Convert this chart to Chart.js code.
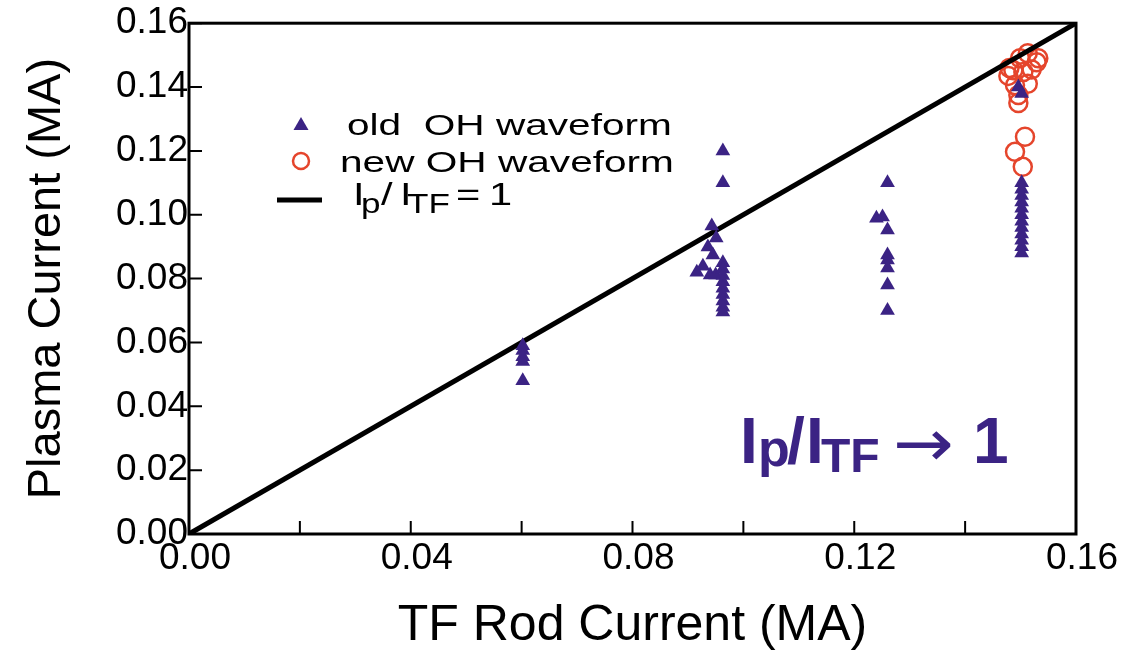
<!DOCTYPE html>
<html>
<head>
<meta charset="utf-8">
<script src="https://cdn.jsdelivr.net/npm/chart.js@4.4.1/dist/chart.umd.min.js"></script>
<style>
html,body{margin:0;padding:0;background:#fff}
#wrap{width:1124px;height:658px}
</style>
</head>
<body>
<div id="wrap"><canvas id="chartIp"></canvas></div>
<script>
// old OH waveform (triangles)
const oldX=[0.0602,0.0602,0.0602,0.0602,0.0602,
 0.0963,0.0963,0.0943,0.0951,0.0936,0.0945,0.0927,0.0916,0.0940,0.0950,
 0.0963,0.0963,0.0963,0.0963,0.0963,0.0963,0.0963,0.0963,0.0963,
 0.1260,0.1240,0.1251,0.1260,0.1260,0.1260,0.1260,0.1260,0.1260,
 0.1502,0.1502,0.1502,0.1502,0.1502,0.1502,0.1502,0.1502,0.1502,0.1502,0.1502,0.1502,0.1496,0.1502]
const oldY=[0.059,0.0575,0.0555,0.054,0.048,
 0.120,0.110,0.0965,0.0927,0.0899,0.0874,0.0839,0.082,0.0811,0.0811,
 0.085,0.083,0.081,0.079,0.077,0.075,0.073,0.071,0.0695,
 0.110,0.0989,0.0993,0.0952,0.0874,0.0858,0.0833,0.078,0.070,
 0.110,0.108,0.106,0.104,0.102,0.100,0.098,0.096,0.094,0.092,0.090,0.088,0.140,0.138]
// new OH waveform (circles)
const newX=[0.1499,0.1513,0.1480,0.1529,0.1490,0.1513,0.1496,0.1496,0.1487,0.1505,0.1532,0.1520,0.1478,0.1508,0.1490,0.1504]
const newY=[0.149,0.1506,0.146,0.1478,0.1406,0.141,0.1375,0.135,0.1453,0.1447,0.149,0.1455,0.1435,0.1244,0.1197,0.115]
// Ip / ITF = 1
const lineX=[0,0.16]
const lineY=[0,0.16]

const FONT="'Liberation Sans', Arial, Helvetica, sans-serif"
const PURPLE='#3b2384'
const RED='#e5452c'

function pts(xs,ys){return xs.map((x,i)=>({x:x,y:ys[i]}))}

function stretchText(ctx,txt,x,y,font,sx){
 ctx.save()
 ctx.font=font
 ctx.translate(x,y)
 ctx.scale(sx,1)
 ctx.fillText(txt,0,0)
 ctx.restore()
}

const framePlugin={
 id:'frame',
 afterDatasetsDraw(chart){
  const ctx=chart.ctx, a=chart.chartArea
  ctx.save()
  ctx.strokeStyle='#000'
  ctx.lineWidth=3
  ctx.strokeRect(a.left,a.top,a.right-a.left,a.bottom-a.top)
  ctx.lineWidth=2
  const xs=chart.scales.x, ys=chart.scales.y
  ctx.beginPath()
  xs.ticks.forEach(t=>{
   const p=xs.getPixelForValue(t.value)
   ctx.moveTo(p,a.bottom);ctx.lineTo(p,a.bottom-13)
  })
  ys.ticks.forEach(t=>{
   const p=ys.getPixelForValue(t.value)
   ctx.moveTo(a.left,p);ctx.lineTo(a.left+13,p)
  })
  ctx.stroke()
  ctx.restore()
 },
 afterDraw(chart){
  const ctx=chart.ctx
  ctx.save()
  ctx.textAlign='left'
  ctx.textBaseline='alphabetic'
  // legend
  ctx.fillStyle=PURPLE
  ctx.beginPath()
  ctx.moveTo(301,117);ctx.lineTo(308.5,130);ctx.lineTo(293.5,130);ctx.closePath()
  ctx.fill()
  ctx.strokeStyle=RED;ctx.lineWidth=2.5
  ctx.beginPath();ctx.arc(301,161,8,0,Math.PI*2);ctx.stroke()
  ctx.strokeStyle='#000';ctx.lineWidth=5
  ctx.beginPath();ctx.moveTo(277,200);ctx.lineTo(322,200);ctx.stroke()
  ctx.fillStyle='#000'
  const f29='29px '+FONT
  stretchText(ctx,'old  OH waveform',347,135,f29,1.4)
  stretchText(ctx,'new OH waveform',340,172,f29,1.4)
  const f32='32px '+FONT, f26='27px '+FONT
  stretchText(ctx,'I',353,205,f32,1.3)
  stretchText(ctx,'p',361,213,f26,1.3)
  stretchText(ctx,'/',381,205,f32,1.3)
  stretchText(ctx,'I',400,205,f32,1.3)
  stretchText(ctx,'TF',407,213,f26,1.3)
  stretchText(ctx,'=',456,205,f32,1.3)
  stretchText(ctx,'1',489,205,f32,1.3)
  // annotation
  ctx.fillStyle=PURPLE
  const b64='bold 64px '+FONT
  stretchText(ctx,'I',740,463,b64,1)
  stretchText(ctx,'p',758,466,'bold 52px '+FONT,1)
  stretchText(ctx,'/',787,463,b64,1)
  stretchText(ctx,'I',806,463,b64,1)
  stretchText(ctx,'TF',821,472,'bold 48px '+FONT,1)
  stretchText(ctx,'\u2192',893,466,"66px 'DejaVu Sans', sans-serif",1.1)
  stretchText(ctx,'1',973,463,b64,1)
  ctx.restore()
 }
}

let chartIp=new Chart(document.getElementById('chartIp'),{
 type:'scatter',
 data:{
  datasets:[
   {label:'new OH waveform',data:pts(newX,newY),pointStyle:'circle',pointRadius:9,
    backgroundColor:'rgba(0,0,0,0)',borderColor:RED,borderWidth:2.5,order:3},
   {label:'Ip / ITF = 1',type:'line',data:pts(lineX,lineY),borderColor:'#000',borderWidth:5,
    pointRadius:0,fill:false,order:2},
   {label:'old OH waveform',data:pts(oldX,oldY),pointStyle:'triangle',pointRadius:8.5,
    backgroundColor:PURPLE,borderColor:PURPLE,borderWidth:0,order:1}
  ]
 },
 options:{
  responsive:true,
  maintainAspectRatio:false,
  animation:false,
  devicePixelRatio:1,
  layout:{padding:{top:23,right:48,left:0,bottom:0}},
  plugins:{legend:{display:false},tooltip:{enabled:false}},
  scales:{
   x:{type:'linear',min:0,max:0.16,
    afterFit(s){s.height=124},
    grid:{display:false,drawTicks:false},
    border:{display:false},
    ticks:{stepSize:0.02,autoSkip:false,maxRotation:0,padding:3,labelOffset:6,color:'#000',
     font:{family:FONT,size:37},
     callback:v=>Math.round(v*100)%4===0?v.toFixed(2):''},
    title:{display:true,text:'TF Rod Current (MA)',color:'#000',
     font:{family:FONT,size:50,lineHeight:1},padding:{bottom:7}}
   },
   y:{type:'linear',min:0,max:0.16,
    afterFit(s){s.width=189},
    grid:{display:false,drawTicks:false},
    border:{display:false},
    ticks:{stepSize:0.02,autoSkip:false,padding:1,color:'#000',
     font:{family:FONT,size:37},
     callback:v=>v.toFixed(2)},
    title:{display:true,text:'Plasma Current (MA)',color:'#000',
     font:{family:FONT,size:47,lineHeight:1},padding:{top:24}}
   }
  }
 },
 plugins:[framePlugin]
})
</script>
</body>
</html>
